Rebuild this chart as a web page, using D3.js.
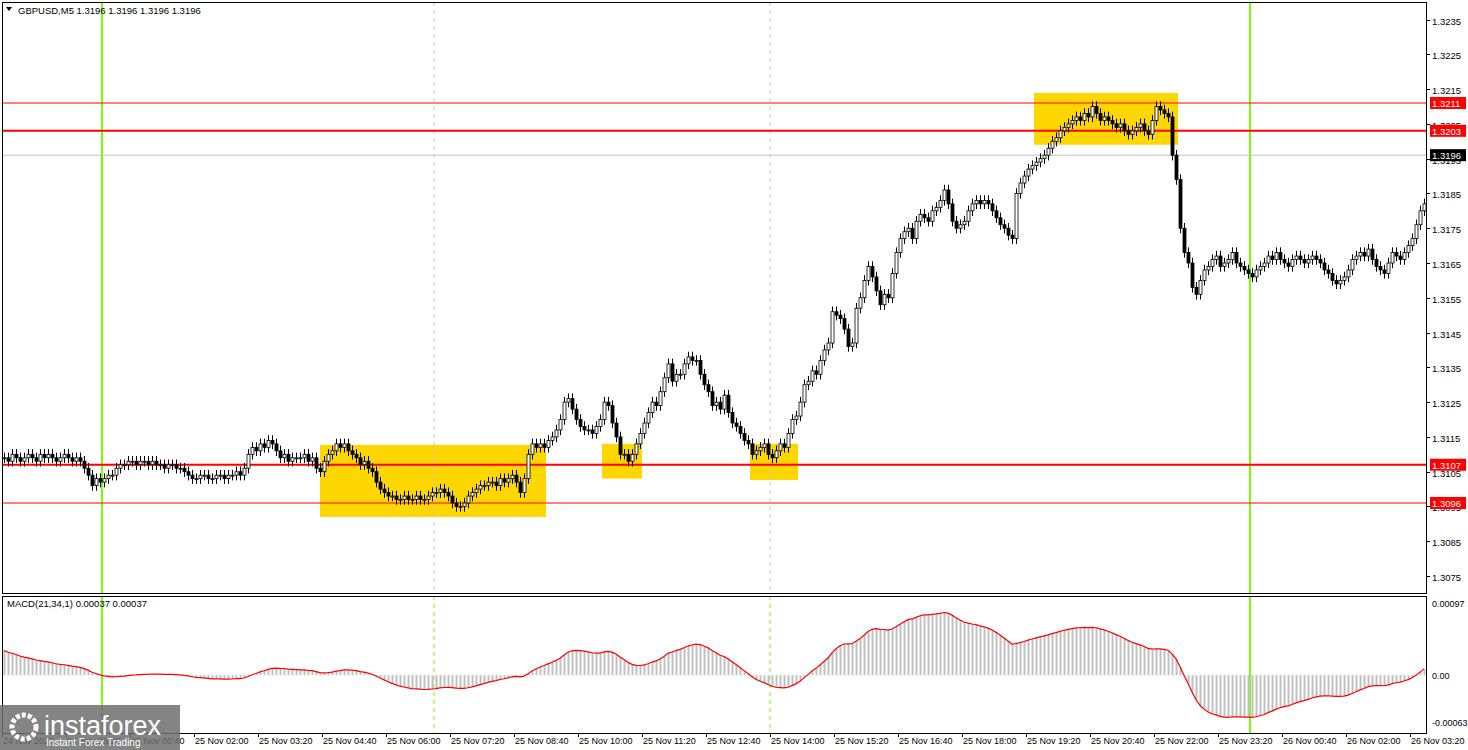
<!DOCTYPE html>
<html><head><meta charset="utf-8">
<script src="https://cdn.jsdelivr.net/npm/d3@7"></script>
<style>body{margin:0;background:#fff}svg{display:block}text{font-family:"Liberation Sans",Arial,sans-serif}</style>
</head><body><svg id="c" width="1468" height="750"></svg>
<script>
// closes, in pips above 1.3000, one per M5 bar from 24 Nov 22:00
var closes = [
 109,108,110,109,108,109,110,109,108,110, 109,110,109,108,109,110,109,108,109,108,
 106,104,101,103,102, 103,104,104,106,107,107,108,108,107,108,
 108,107,108,107,107,106,107,107,106,106, 105,104,103,103,104,104,103,103,104,104,
 103,104,104,105,104,106,110,112,111,113, 112,114,113,111,109,110,108,109,109,109,
 110,108,109,106,105,108,110,111,113,112, 113,111,110,109,107,108,106,105,102,100,
 99,98,98,97,97,98,97,97,98,97, 97,98,99,99,100,99,98,96,95,95,
 96,98,99,100,101,101,102,102,101,103, 102,103,104,102,99,103,110,113,112,113,
 112,114,115,117,120,125,126,123,120,118, 117,117,116,118,120,125,124,119,115,110,
 110,108,110,113,116,119,122,125,124,128, 132,136,131,133,133,136,138,137,137,133,
 130,128,124,125,123,127,122,119,118,116, 114,113,110,111,112,113,110,109,111,113,
 112,116,120,121,125,130,131,134,133,137, 140,142,151,150,149,146,141,142,152,155,
 160,164,161,157,153,156,155,162,168,172, 174,175,172,177,179,178,177,180,181,183,
 186,182,177,175,176,177,180,182,183,182, 183,182,180,178,176,175,173,172,185,188,
 190,192,193,194,195,196,198,200,201,203, 204,205,206,207,206,208,207,210,208,206,
 207,206,205,204,205,203,202,203,204,205, 203,202,206,210,209,208,207,196,189,175,
 168,165,158,156,160,163,164,166,167,164, 165,166,168,165,164,163,162,161,163,164,
 165,167,166,168,166,165,164,166,167,166, 165,166,167,166,165,163,162,160,159,160,
 161,163,166,167,168,167,169,166,164,163, 162,165,168,167,166,168,170,172,176,180,182
];
var priceTicks = [1.3235,1.3225,1.3215,1.3205,1.3195,1.3185,1.3175,1.3165,1.3155,1.3145,1.3135,1.3125,1.3115,1.3105,1.3095,1.3085,1.3075];
var levels = [{p:1.3211,w:1},{p:1.3203,w:2},{p:1.3107,w:2},{p:1.3096,w:1}];
var current = 1.3196;
// yellow zones: [first bar, last bar, top price, bottom price]
var zones = [[79.5,136,1.31127,1.30920],[150,160,1.31130,1.31030],[187,199,1.31130,1.31026],[258,294,1.32139,1.31990]];
var greenBars = [25,312];
var dashBars = [108,192];
var macdTicks = [0.00097,0,-0.00063];

var svg = d3.select('#c');
var L = 2, R = 1426, T = 2, B = 593, MT = 596, MB = 733;
var x = d3.scaleLinear().domain([0,356]).range([L,R]);
var y = d3.scaleLinear().domain([1.3096,1.3211]).range([503,103]);
var ym = d3.scaleLinear().domain([-0.00063,0.00097]).range([722,603]);

var bars = closes.map(function(c,i){
  var cl = 1.3 + c/10000, op = i ? 1.3 + closes[i-1]/10000 : cl;
  return {i:i, o:op, c:cl, h:Math.max(op,cl)+0.00015, l:Math.min(op,cl)-0.00015};
});

// MACD(21,34) from the closes
var e1 = bars[0].c, e2 = bars[0].c - 0.00035, a1 = 2/22, a2 = 2/35;
var macd = bars.map(function(b){ e1 += a1*(b.c-e1); e2 += a2*(b.c-e2); return e1-e2; });

svg.append('clipPath').attr('id','cm').append('rect').attr('x',L).attr('y',T).attr('width',R-L).attr('height',B-T);
svg.append('clipPath').attr('id','cd').append('rect').attr('x',L).attr('y',MT).attr('width',R-L).attr('height',MB-MT);
var g = svg.append('g').attr('clip-path','url(#cm)');

g.selectAll('.z').data(zones).enter().append('rect')
  .attr('x',function(d){return x(d[0]);}).attr('width',function(d){return x(d[1])-x(d[0]);})
  .attr('y',function(d){return y(d[2]);}).attr('height',function(d){return y(d[3])-y(d[2]);})
  .attr('fill','#ffd700');

g.selectAll('.dv').data(dashBars).enter().append('line')
  .attr('x1',function(d){return x(d);}).attr('x2',function(d){return x(d);}).attr('y1',T).attr('y2',B)
  .attr('stroke','#c8c8c8').attr('stroke-dasharray','4,4');
g.selectAll('.gv').data(greenBars).enter().append('line')
  .attr('x1',function(d){return x(d);}).attr('x2',function(d){return x(d);}).attr('y1',T).attr('y2',B)
  .attr('stroke','#7cfc00').attr('stroke-width',2);

g.append('line').attr('x1',L).attr('x2',R).attr('y1',y(current)).attr('y2',y(current)).attr('stroke','#c0c0c0');
g.selectAll('.lv').data(levels).enter().append('line')
  .attr('x1',L).attr('x2',R).attr('y1',function(d){return y(d.p);}).attr('y2',function(d){return y(d.p);})
  .attr('stroke','#ff0000').attr('stroke-width',function(d){return d.w;});

var cg = g.selectAll('.bar').data(bars).enter().append('g');
cg.append('line').attr('x1',function(d){return Math.round(x(d.i+0.5))+0.5;}).attr('x2',function(d){return Math.round(x(d.i+0.5))+0.5;})
  .attr('y1',function(d){return y(d.h);}).attr('y2',function(d){return y(d.l);}).attr('stroke','#000');
cg.append('rect').attr('x',function(d){return Math.round(x(d.i+0.5))-1;}).attr('width',3)
  .attr('y',function(d){return y(Math.max(d.o,d.c));})
  .attr('height',function(d){return Math.max(1,y(Math.min(d.o,d.c))-y(Math.max(d.o,d.c)));})
  .attr('fill',function(d){return d.c>=d.o?'#fff':'#000';}).attr('stroke','#000').attr('stroke-width',0.8);

// MACD panel
var mg = svg.append('g').attr('clip-path','url(#cd)');
mg.selectAll('.dm').data(dashBars).enter().append('line')
  .attr('x1',function(d){return x(d);}).attr('x2',function(d){return x(d);}).attr('y1',MT).attr('y2',MB)
  .attr('stroke','#7cfc00').attr('stroke-dasharray','4,4');
mg.selectAll('.gm').data(greenBars).enter().append('line')
  .attr('x1',function(d){return x(d);}).attr('x2',function(d){return x(d);}).attr('y1',MT).attr('y2',MB)
  .attr('stroke','#7cfc00').attr('stroke-width',2);
mg.selectAll('.h').data(macd).enter().append('line')
  .attr('x1',function(d,i){return Math.round(x(i+0.5))+0.5;}).attr('x2',function(d,i){return Math.round(x(i+0.5))+0.5;})
  .attr('y1',ym(0)).attr('y2',function(d){return ym(d);}).attr('stroke','#c0c0c0').attr('stroke-width',2);
mg.append('path').datum(macd).attr('fill','none').attr('stroke','#ff0000').attr('stroke-width',1.2)
  .attr('d',d3.line().x(function(d,i){return x(i+0.5);}).y(function(d){return ym(d);}));

// frames
svg.append('rect').attr('x',L+0.5).attr('y',T+0.5).attr('width',R-L).attr('height',B-T).attr('fill','none').attr('stroke','#000');
svg.append('rect').attr('x',L+0.5).attr('y',MT+0.5).attr('width',R-L).attr('height',MB-MT).attr('fill','none').attr('stroke','#000');

// price axis
var pa = svg.append('g');
pa.selectAll('.pt').data(priceTicks).enter().append('g').each(function(d){
  var s = d3.select(this), yy = Math.round(y(d))+0.5;
  s.append('line').attr('x1',R).attr('x2',R+4).attr('y1',yy).attr('y2',yy).attr('stroke','#000');
  s.append('text').attr('x',R+6).attr('y',yy+4).attr('font-size',9.5).text(d.toFixed(4));
});
var tags = levels.map(function(d){return {p:d.p,bg:'#ff0000'};}).concat([{p:current,bg:'#000'}]);
pa.selectAll('.tg').data(tags).enter().append('g').each(function(d){
  var s = d3.select(this), yy = y(d.p);
  s.append('rect').attr('x',R+4).attr('y',yy-6).attr('width',36).attr('height',12).attr('fill',d.bg);
  s.append('text').attr('x',R+6).attr('y',yy+4).attr('font-size',9.5).attr('fill','#fff').text(d.p.toFixed(4));
});
svg.selectAll('.mt').data(macdTicks).enter().append('text')
  .attr('x',R+6).attr('y',function(d){return ym(d)+4;}).attr('font-size',9)
  .text(function(d){return d===0?'0.00':d.toFixed(5);});

// time axis
var t0 = new Date(2025,10,24,22,0);
var fmt = d3.timeFormat('%d %b %H:%M');
var tIdx = d3.range(0,356,16);
var ta = svg.selectAll('.tt').data(tIdx).enter().append('g');
ta.append('line').attr('x1',function(d){return x(d)+0.5;}).attr('x2',function(d){return x(d)+0.5;})
  .attr('y1',MB).attr('y2',MB+4).attr('stroke','#000');
ta.append('text').attr('x',function(d){return x(d)+1;}).attr('y',744).attr('font-size',9)
  .text(function(d){ var t = new Date(+t0 + d*300000); return d===0 ? '24 Nov 2025' : fmt(t); });

// titles
svg.append('path').attr('d','M6,7 L12,7 L9,11 Z').attr('fill','#000');
svg.append('text').attr('x',18).attr('y',14).attr('font-size',9.5).text('GBPUSD,M5  1.3196 1.3196 1.3196 1.3196');
svg.append('text').attr('x',7).attr('y',607).attr('font-size',9.5).text('MACD(21,34,1) 0.00037 0.00037');

// watermark
var wm = svg.append('g');
wm.append('rect').attr('x',0).attr('y',705).attr('width',180).attr('height',45).attr('fill','#6e6e6e').attr('opacity',0.85);
wm.append('circle').attr('cx',24).attr('cy',727).attr('r',12).attr('fill','none').attr('stroke','#fff').attr('stroke-width',5).attr('stroke-dasharray','4,2');
wm.append('text').attr('x',44).attr('y',735).attr('font-size',27).attr('fill','#fff').attr('font-family','Lato').text('instaforex');
wm.append('text').attr('x',46).attr('y',746).attr('font-size',10).attr('fill','#fff').text('Instant Forex Trading');
</script></body></html>
